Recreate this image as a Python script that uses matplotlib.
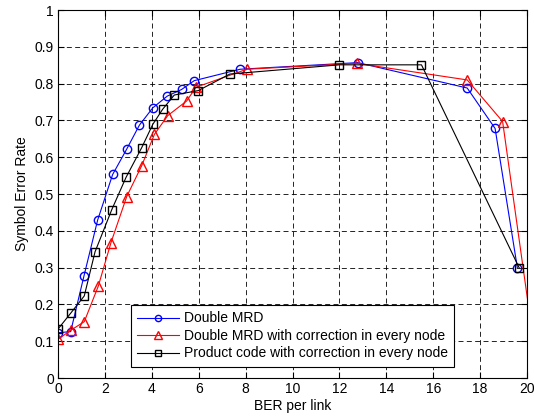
import matplotlib
matplotlib.use("Agg")
import matplotlib.pyplot as plt

plt.rcParams['font.family'] = ['Liberation Sans', 'DejaVu Sans']

# Double MRD
mrd_x = [0.0, 0.54, 1.11, 1.69, 2.33, 2.93, 3.47, 4.04, 4.66, 5.27, 5.81, 7.76, 12.78, 17.45, 18.64, 19.59]
mrd_y = [0.123, 0.126, 0.278, 0.429, 0.553, 0.622, 0.687, 0.734, 0.766, 0.784, 0.808, 0.839, 0.857, 0.788, 0.678, 0.299]

# Double MRD with correction in every node
mrdc_x = [0.0, 0.55, 1.12, 1.72, 2.26, 2.93, 3.57, 4.11, 4.68, 5.49, 5.88, 8.05, 12.74, 17.45, 18.96, 20.25]
mrdc_y = [0.105, 0.13, 0.153, 0.25, 0.368, 0.493, 0.577, 0.662, 0.713, 0.753, 0.79, 0.839, 0.855, 0.81, 0.697, 0.11]

# Product code with correction in every node
prod_x = [0.0, 0.54, 1.12, 1.58, 2.29, 2.9, 3.57, 4.04, 4.46, 4.96, 5.98, 7.33, 12.0, 15.5, 19.67]
prod_y = [0.133, 0.176, 0.223, 0.343, 0.457, 0.545, 0.626, 0.689, 0.73, 0.769, 0.781, 0.826, 0.851, 0.851, 0.299]

labels = ['Double MRD',
          'Double MRD with correction in every node',
          'Product code with correction in every node']

fig = plt.figure(figsize=(5.34, 4.19), dpi=100)
ax = fig.add_axes([58 / 534, 1 - 378 / 419, 469 / 534, 368 / 419])

ax.plot(mrd_x, mrd_y, color='blue', marker='o', ms=6, mfc='none', lw=0.8, label=labels[0])
ax.plot(mrdc_x, mrdc_y, color='red', marker='^', ms=7, mfc='none', lw=0.8, label=labels[1])
ax.plot(prod_x, prod_y, color='black', marker='s', ms=6, mfc='none', lw=0.8, label=labels[2])

ax.set_xlim(0, 20)
ax.set_ylim(0, 1)
ax.set_xticks(range(0, 21, 2))
ax.set_yticks([i / 10 for i in range(11)])
ax.set_yticklabels(['0', '0.1', '0.2', '0.3', '0.4', '0.5', '0.6', '0.7', '0.8', '0.9', '1'])
ax.grid(True, color='black', linestyle=(0, (6, 4)), linewidth=0.6)
ax.tick_params(direction='in', labelsize=10, length=4, top=True, right=True, pad=3)
for s in ax.spines.values():
    s.set_linewidth(0.8)

ax.set_xlabel('BER per link', fontsize=10, labelpad=2)
ax.set_ylabel('Symbol Error Rate', fontsize=10, labelpad=4)

leg = ax.legend(loc='lower center', bbox_to_anchor=(0.5, 0.012), fontsize=10,
                fancybox=False, framealpha=1, edgecolor='black', markerscale=0.75,
                handlelength=3.0, handletextpad=0.4, borderpad=0.45, labelspacing=0.25)
leg.get_frame().set_linewidth(0.8)

fig.savefig('out.png', dpi=100)
